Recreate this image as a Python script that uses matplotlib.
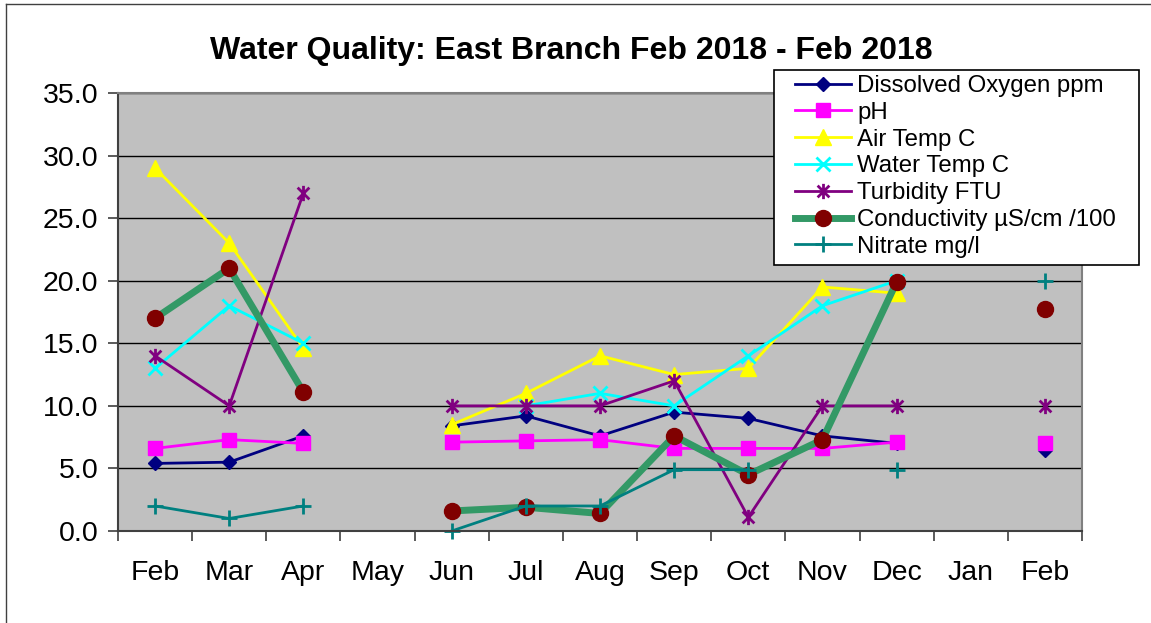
import numpy as np
import matplotlib
matplotlib.use("Agg")
import matplotlib.pyplot as plt
from matplotlib.path import Path
from matplotlib.lines import Line2D
from matplotlib.patches import Rectangle

plt.rcParams['font.family'] = ['Liberation Sans', 'DejaVu Sans']

nan = np.nan
months = ["Feb", "Mar", "Apr", "May", "Jun", "Jul", "Aug", "Sep", "Oct", "Nov", "Dec", "Jan", "Feb"]

dissolved_oxygen = [5.4, 5.5, 7.6, nan, 8.4, 9.2, 7.6, 9.5, 9.0, 7.6, 7.0, nan, 6.5]
ph = [6.6, 7.3, 7.0, nan, 7.1, 7.2, 7.3, 6.6, 6.6, 6.6, 7.1, nan, 7.0]
air_temp = [29.0, 23.0, 14.6, nan, 8.5, 11.0, 14.0, 12.5, 13.0, 19.5, 19.0, nan, nan]
water_temp = [13.0, 18.0, 15.0, nan, nan, 10.0, 11.0, 10.0, 14.0, 18.0, 20.0, nan, nan]
turbidity = [14.0, 10.0, 27.0, nan, 10.0, 10.0, 10.0, 12.0, 1.1, 10.0, 10.0, nan, 10.0]
conductivity = [17.0, 21.0, 11.1, nan, 1.6, 1.9, 1.4, 7.6, 4.5, 7.3, 19.9, nan, 17.7]
nitrate = [2.0, 1.0, 2.0, nan, 0.0, 2.0, 2.0, 4.9, 4.9, nan, 4.9, nan, 20.0]

# asterisk marker like the spreadsheet one: an x with a vertical bar
star = Path([(-1, -1), (1, 1), (-1, 1), (1, -1), (0, -1.3), (0, 1.3)],
            [Path.MOVETO, Path.LINETO, Path.MOVETO, Path.LINETO, Path.MOVETO, Path.LINETO])

W, H = 1151, 623
fig = plt.figure(figsize=(W / 100, H / 100), dpi=100)
ax = fig.add_axes([118 / W, 1 - 531 / H, (1082 - 118) / W, (531 - 93) / H])
ax.set_facecolor("#C0C0C0")

x = np.arange(len(months))
series = [
    ("Dissolved Oxygen ppm", dissolved_oxygen, dict(color="#000080", lw=2, marker="D", ms=7.5)),
    ("pH", ph, dict(color="#FF00FF", lw=2, marker="s", ms=10.5)),
    ("Air Temp C", air_temp, dict(color="#FFFF00", lw=2, marker="^", ms=11)),
    ("Water Temp C", water_temp, dict(color="#00FFFF", lw=2, marker="x", ms=10.5, mew=2)),
    ("Turbidity FTU", turbidity, dict(color="#800080", lw=2, marker=star, ms=11, mew=2)),
    ("Conductivity \u00b5S/cm /100", conductivity,
     dict(color="#339966", lw=5, marker="o", ms=11.5, mfc="#800000", mec="#800000")),
    ("Nitrate mg/l", nitrate, dict(color="#008080", lw=2, marker="+", ms=11, mew=2)),
]
for name, vals, kw in series:
    ax.plot(x, vals, label=name, clip_on=False, **kw)

ax.set_xlim(-0.5, len(months) - 0.5)
ax.set_ylim(0, 35)
ax.set_yticks(np.arange(0, 36, 5))
ax.set_yticklabels([f"{v:.1f}" for v in np.arange(0, 36, 5)], fontsize=20.5)
ax.yaxis.grid(True, color="black", lw=1)
ax.set_axisbelow(True)

ax.set_xticks(np.arange(-0.5, len(months), 1))
ax.set_xticklabels([])
ax.set_xticks(x, minor=True)
ax.set_xticklabels(months, minor=True, fontsize=20.5)
ax.tick_params(axis="x", which="major", length=7, width=1.2, color="#404040", direction="out")
ax.tick_params(axis="x", which="minor", length=0, pad=21)
ax.tick_params(axis="y", length=7, width=1.2, color="#404040", pad=7)

for side in ["left", "bottom"]:
    ax.spines[side].set_color("#404040")
    ax.spines[side].set_linewidth(1.5)
for side in ["top", "right"]:
    ax.spines[side].set_color("#808080")
    ax.spines[side].set_linewidth(1.5)

# legend box drawn by hand, entries placed inside it
fig.add_artist(Rectangle((774 / W, 1 - 265 / H), (1139 - 774) / W, (265 - 70) / H,
                         transform=fig.transFigure, facecolor="white", edgecolor="black",
                         lw=1.2, zorder=5))
leg = fig.legend(loc="upper left", bbox_to_anchor=(795 / W, 1 - 75 / H), fontsize=17.3,
                 frameon=False, borderpad=0, labelspacing=0.2, handlelength=2.35,
                 handletextpad=0.25, borderaxespad=0)
leg.set_zorder(6)

fig.text(571 / W, 1 - 51 / H, "Water Quality: East Branch Feb 2018 - Feb 2018",
         ha="center", va="center", fontsize=23, fontweight="bold")

# outer chart border (cropped on the right and bottom)
fig.add_artist(Line2D([6 / W, 6 / W], [0, 1 - 4 / H], color="#404040", lw=1, transform=fig.transFigure))
fig.add_artist(Line2D([6 / W, 1], [1 - 4 / H, 1 - 4 / H], color="#404040", lw=1, transform=fig.transFigure))

fig.savefig("out.png", dpi=100)
